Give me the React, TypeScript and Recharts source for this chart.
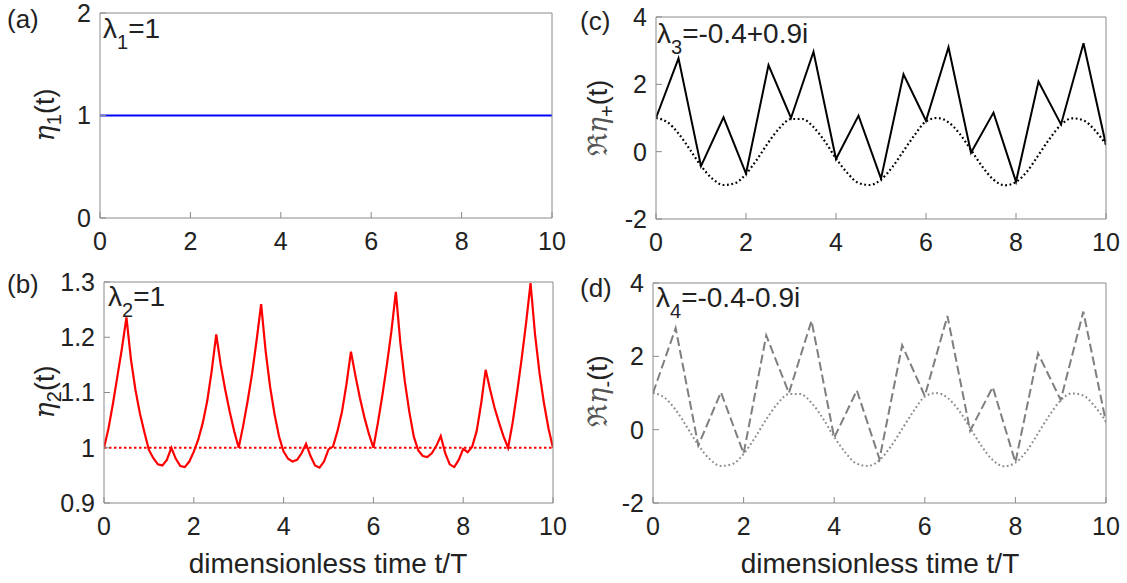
import React from "react";
import { LineChart, Line, XAxis, YAxis, ReferenceLine } from "recharts";

const FONT = '"Liberation Sans", Arial, Helvetica, sans-serif';
const AXIS_GRAY = "#8a8a8a";
const TEXT = "#222";

// shared time axis
const xTicks = [0, 2, 4, 6, 8, 10];

// (a) eta_1(t)
const eta1Points = [
  { t: 0, v: 1 },
  { t: 10, v: 1 },
];
const eta1Ticks = [0, 1, 2];

// (b) eta_2(t), sampled every 0.1 T
const eta2Times = Array.from({ length: 101 }, (_, i) => i / 10);
const eta2Values = [
  1.0, 1.035, 1.08, 1.13, 1.18, 1.236, 1.16, 1.105, 1.062, 1.028,
  0.996, 0.981, 0.97, 0.968, 0.978, 1.0, 0.98, 0.967, 0.965, 0.975,
  0.993, 1.015, 1.045, 1.085, 1.14, 1.205, 1.15, 1.105, 1.065, 1.03,
  1.0, 1.04, 1.085, 1.135, 1.195, 1.26, 1.175, 1.11, 1.06, 1.02,
  0.993, 0.98, 0.975, 0.978, 0.99, 1.007, 0.985, 0.968, 0.964, 0.975,
  0.997, 1.002, 1.03, 1.065, 1.115, 1.174, 1.13, 1.09, 1.055, 1.025,
  1.0, 1.045, 1.095, 1.15, 1.21, 1.282, 1.19, 1.12, 1.065, 1.02,
  0.995, 0.985, 0.983, 0.99, 1.003, 1.021, 0.99, 0.97, 0.965, 0.978,
  0.998, 0.992, 1.002, 1.03, 1.08, 1.141, 1.105, 1.072, 1.045, 1.02,
  1.0, 1.045, 1.1, 1.16, 1.225, 1.298, 1.205, 1.135, 1.08, 1.035,
  1.0,
];
const eta2Ticks = [0.9, 1, 1.1, 1.2, 1.3];

// (c),(d) real part of eta_+/eta_- (identical curves), kicks every half period
const zigTimes = [0, 0.5, 1, 1.5, 2, 2.5, 3, 3.5, 4, 4.5, 5, 5.5, 6, 6.5, 7, 7.5, 8, 8.5, 9, 9.5, 10];
const reEtaValues = [
  1.0, 2.77, -0.43, 1.02, -0.65, 2.57, 1.0, 2.97, -0.22, 1.07, -0.8,
  2.3, 0.92, 3.1, -0.03, 1.16, -0.89, 2.08, 0.81, 3.22, 0.2,
];
// dotted reference oscillation
const envTimes = [
  0, 0.25, 0.5, 0.75, 1, 1.25, 1.5, 1.75, 2, 2.25, 2.5, 2.75, 3, 3.25, 3.5, 3.75, 4, 4.25, 4.5, 4.75,
  5, 5.25, 5.5, 5.75, 6, 6.25, 6.5, 6.75, 7, 7.25, 7.5, 7.75, 8, 8.25, 8.5, 8.75, 9, 9.25, 9.5, 9.75, 10,
];
const envValues = [
  1.0, 0.88, 0.54, 0.07, -0.42, -0.8, -0.99, -0.94, -0.66, -0.22,
  0.28, 0.71, 0.97, 0.97, 0.73, 0.31, -0.2, -0.63, -0.93, -0.99,
  -0.83, -0.46, 0.02, 0.5, 0.9, 1.0, 0.87, 0.53, 0.05, -0.44,
  -0.83, -1.0, -0.9, -0.58, -0.1, 0.39, 0.8, 0.99, 0.93, 0.64,
  0.22,
];
const reTicks = [-2, 0, 2, 4];

const eta2Data = eta2Times.map((t, i) => ({ t, v: eta2Values[i] }));
const zigData = zigTimes.map((t, i) => ({ t, v: reEtaValues[i] }));
const envData = envTimes.map((t, i) => ({ t, v: envValues[i] }));

// axis band sizes
const LEFT_W = 60;
const BOTTOM_H = 40;
const TOP_H = 2;
const RIGHT_W = 2;

type PanelProps = {
  left: number;
  top: number;
  width: number;
  height: number;
  plot: { x0: number; x1: number; y0: number; y1: number }; // plot rect inside the box
  yDomain: [number, number];
  yTicks: number[];
  children: React.ReactNode;
};

const tickFont = { fontSize: 25, fill: TEXT, fontFamily: FONT };

function Panel({ left, top, width, height, plot, yDomain, yTicks, children }: PanelProps) {
  const common = { stroke: AXIS_GRAY, strokeWidth: 1 };
  const margin = {
    left: plot.x0 - LEFT_W,
    right: width - plot.x1 - RIGHT_W,
    top: plot.y0 - TOP_H,
    bottom: height - plot.y1 - BOTTOM_H,
  };
  return (
    <div style={{ position: "absolute", left, top }}>
      <LineChart width={width} height={height} margin={margin}>
        <XAxis
          xAxisId="b"
          type="number"
          dataKey="t"
          domain={[0, 10]}
          ticks={xTicks}
          interval={0}
          height={BOTTOM_H}
          tickSize={-6}
          tickMargin={20}
          axisLine={common}
          tickLine={common}
          tick={tickFont}
          allowDataOverflow
        />
        <XAxis
          xAxisId="t"
          orientation="top"
          type="number"
          dataKey="t"
          domain={[0, 10]}
          ticks={xTicks}
          interval={0}
          height={TOP_H}
          tickSize={-6}
          axisLine={common}
          tickLine={common}
          tick={false}
          allowDataOverflow
        />
        <YAxis
          yAxisId="l"
          type="number"
          domain={yDomain}
          ticks={yTicks}
          interval={0}
          width={LEFT_W}
          tickSize={-6}
          tickMargin={15}
          axisLine={common}
          tickLine={common}
          tick={tickFont}
          allowDataOverflow
        />
        <YAxis
          yAxisId="r"
          orientation="right"
          type="number"
          domain={yDomain}
          ticks={yTicks}
          interval={0}
          width={RIGHT_W}
          tickSize={-6}
          axisLine={common}
          tickLine={common}
          tick={false}
          allowDataOverflow
        />
        {children}
      </LineChart>
    </div>
  );
}

const lineBase = {
  xAxisId: "b",
  yAxisId: "l",
  dataKey: "v",
  dot: false,
  activeDot: false,
  isAnimationActive: false,
};

function Labels() {
  const eta = { fontFamily: '"DejaVu Serif", "Liberation Serif", serif', fontStyle: "italic" as const };
  return (
    <svg
      width={1127}
      height={583}
      style={{ position: "absolute", left: 0, top: 0, pointerEvents: "none" }}
      fontFamily={FONT}
      fill={TEXT}
    >
      <text x={7} y={28} fontSize={26}>(a)</text>
      <text x={7} y={293} fontSize={26}>(b)</text>
      <text x={580} y={30} fontSize={26}>(c)</text>
      <text x={580} y={297} fontSize={26}>(d)</text>

      <text x={103} y={38} fontSize={28}>
        λ<tspan fontSize={20} dy={11}>1</tspan>
        <tspan dy={-11}>=1</tspan>
      </text>
      <text x={108} y={306} fontSize={28}>
        λ<tspan fontSize={20} dy={11}>2</tspan>
        <tspan dy={-11}>=1</tspan>
      </text>
      <text x={657} y={43} fontSize={28}>
        λ<tspan fontSize={20} dy={11}>3</tspan>
        <tspan dy={-11}>=-0.4+0.9i</tspan>
      </text>
      <text x={656} y={307} fontSize={28}>
        λ<tspan fontSize={20} dy={11}>4</tspan>
        <tspan dy={-11}>=-0.4-0.9i</tspan>
      </text>

      <text x={45} y={124} fontSize={27} textAnchor="middle" transform="rotate(-90 45 115)">
        <tspan {...eta}>η</tspan>
        <tspan fontSize={20} dy={7}>1</tspan>
        <tspan dy={-7}>(t)</tspan>
      </text>
      <text x={45} y={401} fontSize={27} textAnchor="middle" transform="rotate(-90 45 392)">
        <tspan {...eta}>η</tspan>
        <tspan fontSize={20} dy={7}>2</tspan>
        <tspan dy={-7}>(t)</tspan>
      </text>
      <text x={598} y={127} fontSize={27} textAnchor="middle" transform="rotate(-90 598 118)">
        <tspan fontFamily='"DejaVu Serif", serif' fill="#555">ℜ</tspan>
        <tspan {...eta} fill="#555">η</tspan>
        <tspan fontSize={20} dy={7}>+</tspan>
        <tspan dy={-7}>(t)</tspan>
      </text>
      <text x={598} y={400} fontSize={27} textAnchor="middle" transform="rotate(-90 598 391)">
        <tspan fontFamily='"DejaVu Serif", serif' fill="#555">ℜ</tspan>
        <tspan {...eta} fill="#555">η</tspan>
        <tspan fontSize={20} dy={7}>-</tspan>
        <tspan dy={-7}>(t)</tspan>
      </text>

      <text x={328} y={573} fontSize={28} textAnchor="middle">dimensionless time t/T</text>
      <text x={880} y={573} fontSize={28} textAnchor="middle">dimensionless time t/T</text>
    </svg>
  );
}

export default function App() {
  return (
    <div style={{ position: "absolute", left: 0, top: 0, width: 1127, height: 583, background: "#fff" }}>
      <Panel
        left={0}
        top={0}
        width={580}
        height={270}
        plot={{ x0: 100, x1: 552, y0: 13, y1: 218 }}
        yDomain={[0, 2]}
        yTicks={eta1Ticks}
      >
        <Line {...lineBase} data={eta1Points} stroke="#0000ff" strokeWidth={2.2} />
      </Panel>

      <Panel
        left={0}
        top={250}
        width={580}
        height={333}
        plot={{ x0: 104, x1: 553, y0: 32, y1: 253 }}
        yDomain={[0.9, 1.3]}
        yTicks={eta2Ticks}
      >
        <ReferenceLine xAxisId="b" yAxisId="l" y={1} stroke="#ff0000" strokeWidth={2} strokeDasharray="2.5 2.5" />
        <Line {...lineBase} data={eta2Data} stroke="#ff0000" strokeWidth={2.2} />
      </Panel>

      <Panel
        left={560}
        top={0}
        width={567}
        height={270}
        plot={{ x0: 96, x1: 546, y0: 17, y1: 219 }}
        yDomain={[-2, 4]}
        yTicks={reTicks}
      >
        <Line {...lineBase} data={envData} type="monotone" stroke="#000" strokeWidth={2.2} strokeDasharray="1.8 2.6" />
        <Line {...lineBase} data={zigData} stroke="#000" strokeWidth={2} />
      </Panel>

      <Panel
        left={560}
        top={250}
        width={567}
        height={333}
        plot={{ x0: 93, x1: 546, y0: 33, y1: 253 }}
        yDomain={[-2, 4]}
        yTicks={reTicks}
      >
        <Line {...lineBase} data={envData} type="monotone" stroke="#8c8c8c" strokeWidth={2} strokeDasharray="1.8 2.6" />
        <Line {...lineBase} data={zigData} stroke="#7f7f7f" strokeWidth={2} strokeDasharray="9 4" />
      </Panel>

      <Labels />
    </div>
  );
}
